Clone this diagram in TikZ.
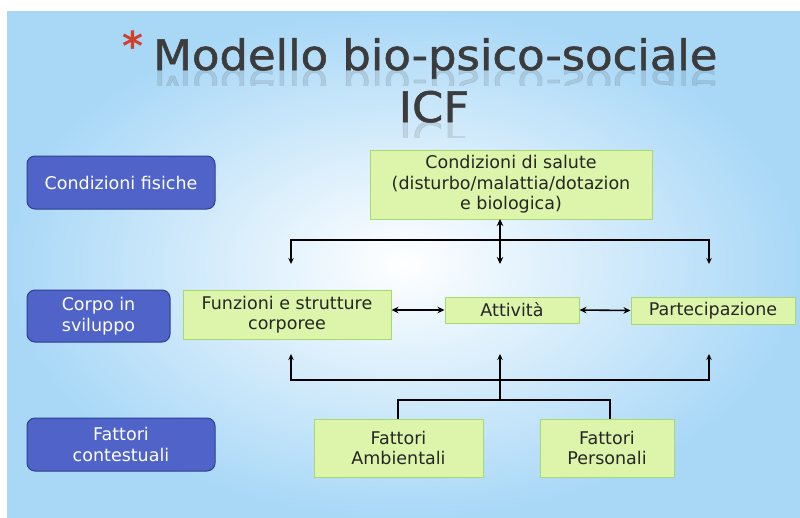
\documentclass[tikz,border=0pt]{standalone}
\usepackage{fontspec}
\setmainfont{DejaVu Sans}
\newfontfamily\titlefont[FakeStretch=1.07,FakeBold=1.3]{DejaVu Sans}
\usetikzlibrary{arrows.meta}
\definecolor{bgblue}{HTML}{A9D8F7}
\definecolor{boxblue}{HTML}{4F63C9}
\definecolor{boxblueline}{HTML}{2E3F8F}
\definecolor{gfill}{HTML}{DCF5AA}
\definecolor{gline}{HTML}{A8D870}
\definecolor{titlegray}{HTML}{3C3C3C}
\definecolor{starred}{HTML}{D0402B}
\tikzset{
  bluebox/.style={draw=boxblueline, line width=1pt, fill=boxblue, rounded corners=8pt,
    text=white, align=center, inner sep=0pt, font=\fontsize{17.5}{20.5}\selectfont},
  greenbox/.style={draw=gline, line width=1pt, fill=gfill, text=black!85,
    align=center, inner sep=0pt, font=\fontsize{17.5}{20.5}\selectfont},
  titletext/.style={text=titlegray, inner sep=0pt, font=\titlefont\fontsize{42}{42}\selectfont},
  conn/.style={line width=1.6pt, black},
  tip/.style={-{Stealth[length=6pt,width=5.5pt]}},
  dtip/.style={{Stealth[length=7pt,width=6.5pt]}-{Stealth[length=7pt,width=6.5pt]}}
}
\begin{document}
\begin{tikzpicture}[x=1pt,y=-1pt]
\useasboundingbox (0,0) rectangle (800,517);
\fill[white] (0,0) rectangle (800,517);
\shade[inner color=white, outer color=bgblue] (7,11) rectangle (800,517);
% title
\node[text=starred, font=\bfseries\fontsize{40}{40}\selectfont] (star) at (133,46) {*};
\node[titletext, anchor=base west] (t1) at (153,70) {Modello bio-psico-sociale};
\node[titletext, anchor=base] (t2) at (434,122) {ICF};
% reflections
\begin{scope}
\clip (140,70) rectangle (740,85);
\node[titletext, anchor=base west, yscale=-1, transform shape, opacity=0.13] (t1r) at (153,70) {Modello bio-psico-sociale};
\end{scope}
\begin{scope}
\clip (390,122) rectangle (480,137);
\node[titletext, anchor=base, yscale=-1, transform shape, opacity=0.13] (t2r) at (434,122) {ICF};
\end{scope}
% blue boxes
\node[bluebox, minimum width=188pt, minimum height=53pt] (cf) at (121,182.5) {Condizioni fisiche};
\node[bluebox, minimum width=143pt, minimum height=52pt] (cs) at (98.5,316) {Corpo in\\sviluppo};
\node[bluebox, minimum width=188pt, minimum height=53pt] (fc) at (121,444.5) {Fattori\\contestuali};
% green boxes
\node[greenbox, minimum width=282pt, minimum height=69pt] (sal) at (511,184.5) {Condizioni di salute\\(disturbo/malattia/dotazion\\e biologica)};
\node[greenbox, minimum width=208pt, minimum height=49pt] (fun) at (287,314.5) {Funzioni e strutture\\corporee};
\node[greenbox, minimum width=134pt, minimum height=26pt] (att) at (512,310) {Attività};
\node[greenbox, minimum width=164pt, minimum height=27pt] (par) at (713,310.5) {Partecipazione};
\node[greenbox, minimum width=169pt, minimum height=58pt] (amb) at (398.5,448) {Fattori\\Ambientali};
\node[greenbox, minimum width=134pt, minimum height=58pt] (per) at (607,448) {Fattori\\Personali};
% top connectors
\coordinate (sb) at (500,219);
\coordinate (tl) at (291,240);
\coordinate (tr) at (709,240);
\coordinate (tm) at (500,240);
\coordinate (ftop) at (291,264);
\coordinate (atop) at (500,264);
\coordinate (ptop) at (709,264);
\draw[conn, dtip] (sb) -- (atop);
\draw[conn, tip] (tm) -- (tl) -- (ftop);
\draw[conn, tip] (tm) -- (tr) -- (ptop);
% horizontal double arrows
\draw[conn, dtip] (fun.east |- att.west) -- (att.west);
\draw[conn, dtip] (att.east) -- (par.west);
% bottom connectors
\coordinate (bl) at (291,380);
\coordinate (bm) at (500,380);
\coordinate (br) at (709,380);
\coordinate (bj) at (500,400);
\coordinate (fb) at (291,354);
\coordinate (ab) at (500,354);
\coordinate (pb) at (709,354);
\draw[conn, tip] (bm) -- (bl) -- (fb);
\draw[conn, tip] (bm) -- (br) -- (pb);
\draw[conn, tip] (bj) -- (ab);
\draw[conn] (amb.north -| 398,0) -- (398,400) -- (610,400) -- (per.north -| 610,0);
\end{tikzpicture}
\end{document}
